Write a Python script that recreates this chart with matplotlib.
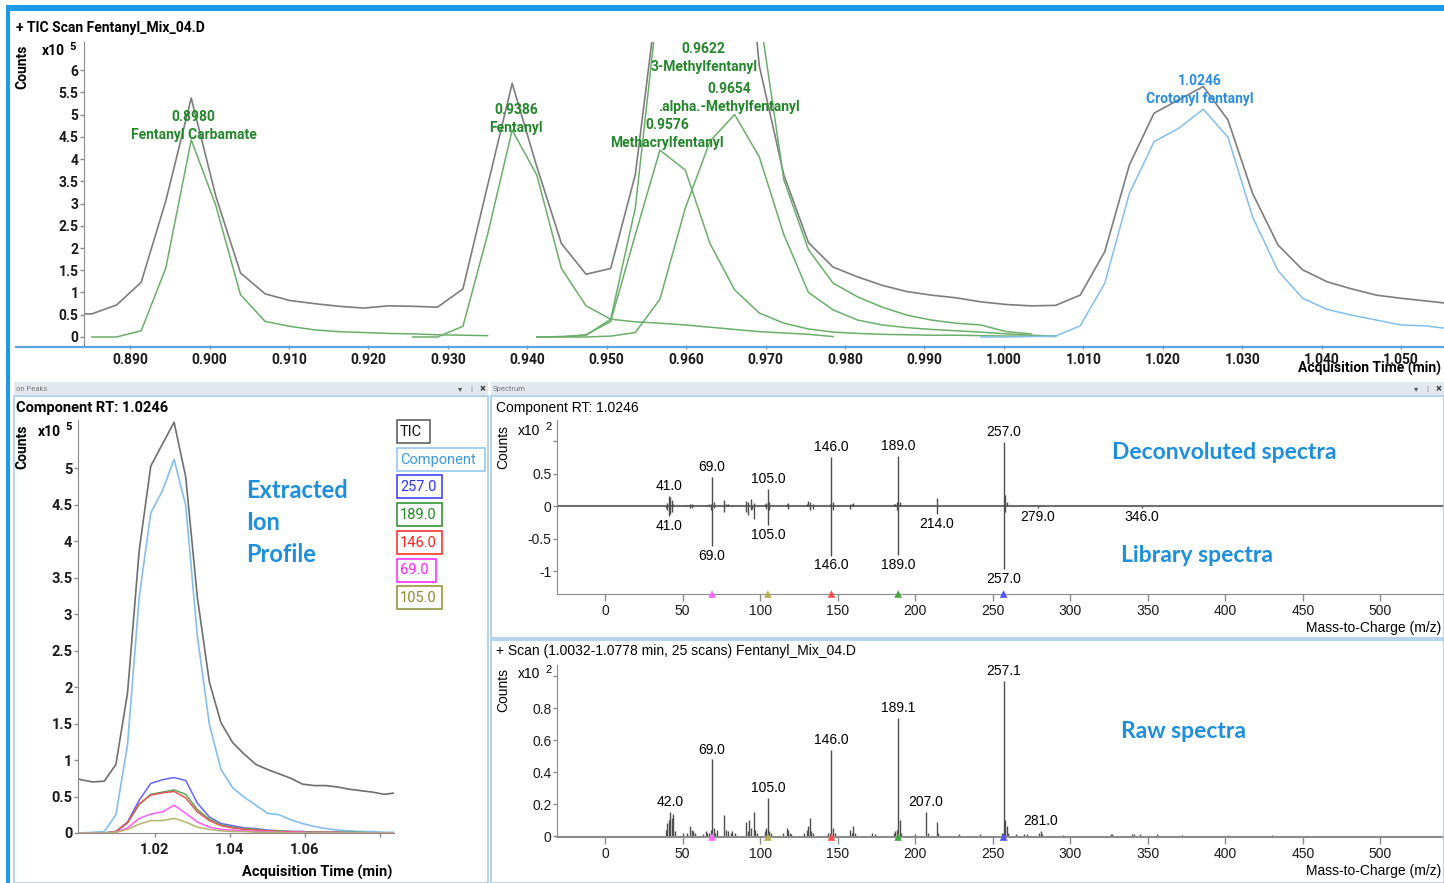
import matplotlib.pyplot as plt
from matplotlib.patches import Rectangle
from matplotlib.lines import Line2D
from matplotlib.ticker import FuncFormatter

plt.rcParams['font.family'] = ['Roboto', 'DejaVu Sans']

# ---------------- data ----------------
# scan times (min), one entry per scan
scan_time = [0.8821, 0.8852, 0.8883, 0.8914, 0.8945, 0.8977, 0.9008, 0.9039, 0.9070, 0.9101,
             0.9132, 0.9163, 0.9194, 0.9225, 0.9256, 0.9287, 0.9319, 0.9350, 0.9381, 0.9412,
             0.9443, 0.9474, 0.9505, 0.9536, 0.9567, 0.9599, 0.9630, 0.9661, 0.9692, 0.9723,
             0.9754, 0.9785, 0.9816, 0.9847, 0.9878, 0.9909, 0.9940, 0.9971, 1.0003, 1.0034,
             1.0065, 1.0096, 1.0127, 1.0158, 1.0189, 1.0220, 1.0251, 1.0282, 1.0313, 1.0345,
             1.0376, 1.0407, 1.0438, 1.0469, 1.0500, 1.0531, 1.0562, 1.0593, 1.0624, 1.0655,
             1.0687, 1.0718, 1.0749, 1.0780, 1.0811, 1.0842]

# TIC (x10^5 counts)
tic = [0.51, 0.52, 0.72, 1.23, 3.06, 5.37, 3.16, 1.44, 0.97, 0.82,
       0.75, 0.69, 0.65, 0.70, 0.69, 0.67, 1.08, 3.40, 5.70, 3.83,
       2.10, 1.41, 1.54, 3.65, 8.10, 12.0, 14.0, 12.0, 6.10, 3.64,
       2.12, 1.57, 1.35, 1.16, 1.02, 0.94, 0.88, 0.79, 0.73, 0.70,
       0.71, 0.94, 1.92, 3.87, 5.03, 5.33, 5.63, 4.88, 3.23, 2.07,
       1.51, 1.24, 1.08, 0.94, 0.87, 0.81, 0.75, 0.67, 0.65, 0.65,
       0.63, 0.60, 0.58, 0.56, 0.53, 0.55]

# deconvoluted component traces: (first scan index, values)
carbamate_start = 1
carbamate = [0.0, 0.0, 0.14, 1.55, 4.43, 2.95, 0.95, 0.35, 0.24, 0.16, 0.12, 0.10, 0.08,
             0.07, 0.05, 0.04, 0.03]
fentanyl_start = 14
fentanyl = [0.0, 0.0, 0.24, 2.30, 4.65, 3.64, 1.54, 0.70, 0.40, 0.34, 0.31, 0.27, 0.22,
            0.17, 0.12, 0.09, 0.06, 0.01]
methacryl_start = 19
methacryl = [0.0, 0.0, 0.05, 0.35, 2.30, 4.20, 3.75, 2.10, 1.06, 0.54, 0.31, 0.18, 0.11,
             0.08, 0.06, 0.05, 0.04, 0.04, 0.03, 0.02, 0.02, 0.01]
methyl3_start = 19
methyl3 = [0.0, 0.01, 0.04, 0.40, 2.90, 7.90, 11.0, 12.0, 10.0, 7.30, 3.53, 1.96, 1.21,
           0.90, 0.67, 0.49, 0.38, 0.31, 0.27, 0.12, 0.07]
alpha_start = 20
alpha = [0.0, 0.0, 0.02, 0.10, 0.85, 2.90, 4.40, 5.00, 4.05, 2.30, 1.00, 0.61, 0.38, 0.27,
         0.21, 0.17, 0.14, 0.11, 0.07, 0.04, 0.02]
crotonyl_start = 37
crotonyl = [0.0, 0.0, 0.01, 0.02, 0.25, 1.21, 3.23, 4.39, 4.69, 5.12, 4.49, 2.70, 1.49,
            0.87, 0.62, 0.49, 0.38, 0.27, 0.25, 0.18, 0.13, 0.09, 0.06, 0.04, 0.03, 0.02,
            0.02, 0.01, 0.01]

peak_rt = [0.8980, 0.9386, 0.9622, 0.9654, 0.9576, 1.0246]
peak_names = ['Fentanyl Carbamate', 'Fentanyl', '3-Methylfentanyl',
              '.alpha.-Methylfentanyl', 'Methacrylfentanyl', 'Crotonyl fentanyl']

# extracted ions of crotonyl fentanyl, scans 37..65
eic_start = 37
ion_names = ['257.0', '189.0', '146.0', '69.0', '105.0']
ion257 = [0, 0, 0, 0, 0.02, 0.15, 0.45, 0.68, 0.73, 0.76, 0.72, 0.41, 0.22, 0.13, 0.10,
          0.07, 0.06, 0.04, 0.03, 0.02, 0.02, 0.01, 0.01, 0.01, 0.01, 0, 0, 0, 0]
ion189 = [0, 0, 0, 0, 0.02, 0.14, 0.39, 0.53, 0.56, 0.59, 0.53, 0.32, 0.19, 0.11, 0.08,
          0.06, 0.05, 0.03, 0.03, 0.02, 0.02, 0.01, 0.01, 0.01, 0.01, 0.01, 0, 0, 0]
ion146 = [0, 0, 0, 0, 0.02, 0.14, 0.40, 0.52, 0.55, 0.57, 0.48, 0.29, 0.17, 0.10, 0.07,
          0.05, 0.04, 0.03, 0.02, 0.02, 0.01, 0.01, 0.01, 0.01, 0, 0, 0, 0, 0]
ion69 = [0, 0, 0, 0, 0.01, 0.07, 0.20, 0.26, 0.29, 0.38, 0.27, 0.15, 0.08, 0.05, 0.04,
         0.03, 0.02, 0.02, 0.01, 0.01, 0.01, 0, 0, 0, 0, 0, 0, 0, 0]
ion105 = [0, 0, 0, 0, 0.01, 0.05, 0.12, 0.17, 0.17, 0.20, 0.15, 0.08, 0.05, 0.03, 0.02,
          0.02, 0.01, 0.01, 0.01, 0, 0, 0, 0, 0, 0, 0, 0, 0, 0]

# deconvoluted spectrum (up) and library spectrum (down), x10^2 counts
decon_mz = [41, 69, 105, 146, 189, 257]
decon_int = [0.16, 0.45, 0.27, 0.76, 0.78, 0.99]
decon_minor_mz = [40, 42, 43, 44, 51, 53, 55, 56, 57, 65, 67, 68, 70, 77, 78, 79, 82, 91, 92,
                  94, 96, 103, 104, 106, 117, 118, 130, 131, 132, 134, 145, 147, 158, 159,
                  160, 172, 186, 187, 188, 190, 200, 214, 228, 258, 259]
decon_minor_int = [0.05, 0.14, 0.10, 0.04, 0.02, 0.02, 0.03, 0.03, 0.02, 0.02, 0.03, 0.04,
                   0.06, 0.10, 0.03, 0.04, 0.02, 0.08, 0.06, 0.12, 0.05, 0.03, 0.05, 0.06,
                   0.03, 0.05, 0.03, 0.08, 0.06, 0.03, 0.04, 0.06, 0.04, 0.03, 0.05, 0.01,
                   0.03, 0.04, 0.06, 0.07, 0.01, 0.13, 0.01, 0.17, 0.06]
lib_mz = [41, 69, 105, 146, 189, 257, 214, 279, 346]
lib_int = [-0.15, -0.61, -0.29, -0.76, -0.75, -0.97, -0.12, -0.02, -0.02]
lib_minor_mz = [39, 40, 42, 43, 55, 56, 68, 70, 77, 91, 92, 94, 95, 96, 104, 106, 118, 132,
                134, 147, 158, 188, 258]
lib_minor_int = [-0.03, -0.06, -0.12, -0.08, -0.02, -0.03, -0.05, -0.03, -0.08, -0.08,
                 -0.14, -0.05, -0.04, -0.19, -0.04, -0.05, -0.04, -0.06, -0.04, -0.05,
                 -0.04, -0.06, -0.08]

# raw scan spectrum, x10^2 counts
raw_mz = [42, 69, 105, 146, 189.1, 207, 257.1, 281]
raw_int = [0.15, 0.48, 0.24, 0.54, 0.74, 0.15, 0.97, 0.03]
raw_minor_mz = [39, 40, 41, 43, 44, 45, 50, 53, 55, 56, 57, 58, 63, 65, 66, 67, 68, 70, 71,
                72, 77, 78, 79, 81, 82, 84, 91, 92, 93, 94, 96, 97, 98, 103, 104, 106, 107,
                115, 117, 118, 119, 120, 128, 130, 131, 132, 133, 134, 144, 145, 147, 148,
                158, 159, 160, 161, 172, 174, 186, 187, 188, 190, 191, 200, 208, 214, 215,
                228, 242, 256, 258, 259, 260, 265, 270, 272, 280, 282, 295, 326, 327, 340,
                341, 345, 356, 372, 402, 430]
raw_minor_int = [0.04, 0.08, 0.10, 0.11, 0.14, 0.03, 0.02, 0.02, 0.06, 0.04, 0.03, 0.02,
                 0.01, 0.03, 0.02, 0.02, 0.04, 0.05, 0.02, 0.04, 0.13, 0.04, 0.03, 0.02,
                 0.03, 0.02, 0.09, 0.03, 0.10, 0.05, 0.15, 0.04, 0.02, 0.03, 0.05, 0.03,
                 0.02, 0.02, 0.05, 0.04, 0.02, 0.01, 0.02, 0.04, 0.06, 0.11, 0.03, 0.02,
                 0.02, 0.02, 0.05, 0.02, 0.04, 0.02, 0.06, 0.02, 0.02, 0.01, 0.02, 0.03,
                 0.04, 0.10, 0.02, 0.01, 0.02, 0.09, 0.02, 0.01, 0.01, 0.02, 0.10, 0.06,
                 0.02, 0.01, 0.01, 0.01, 0.02, 0.01, 0.005, 0.01, 0.01, 0.01, 0.01, 0.01,
                 0.01, 0.005, 0.005, 0.005]
raw_labels = ['42.0', '69.0', '105.0', '146.0', '189.1', '207.0', '257.1', '281.0']

marker_mz = [69, 105, 146, 189, 257]

# ---------------- layout helpers (pixel coords, origin top-left) ----------------
W, H = 1444, 883
fig = plt.figure(figsize=(W / 100, H / 100), dpi=100)


def rect(x0, y0, x1, y1):
    return [x0 / W, 1 - y1 / H, (x1 - x0) / W, (y1 - y0) / H]


def ftext(x, y, s, **kw):
    fig.text(x / W, 1 - y / H, s, **kw)


def fline(xs, ys, **kw):
    fig.add_artist(Line2D([x / W for x in xs], [1 - y / H for y in ys], **kw))


def fbox(x0, y0, x1, y1, **kw):
    fig.add_artist(Rectangle((x0 / W, 1 - y1 / H), (x1 - x0) / W, (y1 - y0) / H, **kw))


def g(v, _):
    return f'{v:g}'


def style(ax, size=10, weight='bold', family=None):
    for s in ['top', 'right']:
        ax.spines[s].set_visible(False)
    for s in ['left', 'bottom']:
        ax.spines[s].set_color('#8c8c8c')
    ax.tick_params(colors='#8c8c8c', labelcolor='#1a1a1a', labelsize=size, length=3, width=1)
    for lab in ax.get_xticklabels() + ax.get_yticklabels():
        lab.set_fontweight(weight)
        if family:
            lab.set_family(family)


TIC_C = '#7d7d7d'
GREEN = '#6aae6a'
COMP = '#84bfeb'
ION_C = ['#6464ff', '#55a855', '#e85555', '#ff5cff', '#b4b46e']
MARK_C = ['#ff66ff', '#b0b050', '#ff5050', '#40a840', '#5050ff']
LBL_G = '#24862a'
LBL_B = '#2a8fe0'
BIG_B = '#1e8fdc'
BIG_FONT = ['Lato', 'DejaVu Sans']

# outer frame
fbox(6, 5, 1444, 11, facecolor='#1e9be6', edgecolor='none')
fbox(6, 5, 10, 883, facecolor='#1e9be6', edgecolor='none')

# ---------------- top: TIC chromatogram ----------------
ax1 = fig.add_axes(rect(84, 42, 1444, 345))
ax1.plot(scan_time, tic, color=TIC_C, lw=1.2)
for start, vals in [(carbamate_start, carbamate), (fentanyl_start, fentanyl),
                    (methacryl_start, methacryl), (methyl3_start, methyl3),
                    (alpha_start, alpha)]:
    ax1.plot(scan_time[start:start + len(vals)], vals, color=GREEN, lw=1.1)
ax1.plot(scan_time[crotonyl_start:crotonyl_start + len(crotonyl)], crotonyl, color=COMP, lw=1.1)
ax1.set_xlim(0.8842, 1.0554)
ax1.set_ylim(-0.18, 6.63)
ax1.set_xticks([0.89 + 0.01 * i for i in range(17)])
ax1.xaxis.set_major_formatter(FuncFormatter(lambda v, _: f'{v:.3f}'))
ax1.set_yticks([0.5 * i for i in range(13)])
ax1.yaxis.set_major_formatter(FuncFormatter(g))
style(ax1)
ax1.spines['bottom'].set_visible(False)
ax1.tick_params(axis='x', pad=3)
ax1.tick_params(axis='y', pad=1)

label_y = [(4.94, 4.54), (5.10, 4.70), (6.47, 6.07), (5.57, 5.17), (4.76, 4.36), (5.75, 5.35)]
for i, (rt, name) in enumerate(zip(peak_rt, peak_names)):
    c = LBL_B if i == len(peak_rt) - 1 else LBL_G
    ax1.text(rt, label_y[i][0], f'{rt:.4f}', color=c, ha='center', va='center',
             fontsize=10, fontweight='bold')
    ax1.text(rt, label_y[i][1], name, color=c, ha='center', va='center',
             fontsize=10, fontweight='bold')

fline([16, 1444], [347, 347], color='#5aa5e0', lw=1.6)
ftext(16, 28, '+ TIC Scan Fentanyl_Mix_04.D', fontsize=10, fontweight='bold', va='center')
ftext(22, 67, 'Counts', fontsize=10, fontweight='bold', rotation=90, ha='center', va='center')
ftext(42, 51, 'x10', fontsize=10, fontweight='bold', va='center')
ftext(69, 47, '5', fontsize=8, fontweight='bold', va='center')
ftext(1441, 368, 'Acquisition Time (min)', fontsize=10, fontweight='bold', ha='right',
      va='center')

# ---------------- panel frames ----------------
for x0, x1, name in [(14, 488, 'on Peaks'), (491, 1444, 'Spectrum')]:
    fbox(x0, 382, x1, 395, facecolor='#e3e8ee', edgecolor='none')
    ftext(x0 + 2, 389, name, fontsize=5.5, color='#7a7a7a', va='center')
    ftext(x1 - 30, 389, '▾', fontsize=6, color='#555555', va='center',
          family=['DejaVu Sans'])
    ftext(x1 - 18, 389, '¦', fontsize=6, color='#888888', va='center')
    ftext(x1 - 8, 389, '×', fontsize=8, color='#333333', va='center', fontweight='bold')
fbox(14, 396, 488, 883, facecolor='none', edgecolor='#a8cdea', lw=1.2)
fbox(491, 396, 1444, 638, facecolor='none', edgecolor='#a8cdea', lw=1.2)
fbox(491, 640, 1444, 883, facecolor='none', edgecolor='#a8cdea', lw=1.2)

# ---------------- bottom-left: extracted ion profile ----------------
ax2 = fig.add_axes(rect(78, 420, 394, 833))
t_eic = scan_time[eic_start:]
ax2.plot(t_eic, tic[eic_start:], color='#6e6e6e', lw=1.2)
ax2.plot(t_eic, crotonyl, color=COMP, lw=1.2)
for vals, c in zip([ion257, ion189, ion146, ion69, ion105], ION_C):
    ax2.plot(t_eic, vals, color=c, lw=1.1)
ax2.set_xlim(0.9995, 1.0837)
ax2.set_ylim(0, 5.66)
ax2.set_xticks([1.02, 1.04, 1.06, 1.08])
ax2.set_xticklabels(['1.02', '1.04', '1.06', ''])
ax2.set_yticks([0.5 * i for i in range(11)])
ax2.yaxis.set_major_formatter(FuncFormatter(g))
style(ax2, size=10.5)
ax2.tick_params(axis='x', pad=4)
ax2.tick_params(axis='y', pad=1)

ftext(16, 408, 'Component RT: 1.0246', fontsize=10.5, fontweight='bold', va='center')
ftext(22, 447, 'Counts', fontsize=10, fontweight='bold', rotation=90, ha='center', va='center')
ftext(38, 432, 'x10', fontsize=10, fontweight='bold', va='center')
ftext(65, 427, '5', fontsize=8, fontweight='bold', va='center')
ftext(392, 872, 'Acquisition Time (min)', fontsize=10.5, fontweight='bold', ha='right',
      va='center')

for i, word in enumerate(['Extracted', 'Ion', 'Profile']):
    ftext(246, 490 + 32 * i, word, fontsize=17, fontweight='bold', color=BIG_B, va='center',
          family=BIG_FONT)

leg_items = [('TIC', '#111111', '#555555', 430), ('Component', '#3a9ae0', '#8cc4ee', 485)]
leg_items += [(n, c, c, 436 if n == '69.0' else 442) for n, c in
              zip(ion_names, ['#3333ff', '#228b22', '#ff2020', '#ff20ff', '#8c8c30'])]
for i, (txt, tc, bc, xr) in enumerate(leg_items):
    y0 = 420 + 27.7 * i
    fbox(397, y0, xr, y0 + 23, facecolor='white', edgecolor=bc, lw=1.1)
    ftext(400, y0 + 12, txt, fontsize=10.5, color=tc, va='center')

# ---------------- top-right: deconvoluted vs library spectrum ----------------
SPEC_FONT = ['Liberation Sans', 'DejaVu Sans']
STICK = '#4d4d4d'

ax3 = fig.add_axes(rect(557, 420, 1444, 594))
ax3.axhline(0, color='#6f6f6f', lw=1.5)
ax3.vlines(decon_minor_mz, 0, decon_minor_int, color=STICK, lw=1)
ax3.vlines(lib_minor_mz, 0, lib_minor_int, color=STICK, lw=1)
ax3.vlines(decon_mz, 0, decon_int, color=STICK, lw=1)
ax3.vlines(lib_mz, 0, lib_int, color=STICK, lw=1)
for mz, v in zip(decon_mz, decon_int):
    ax3.annotate(f'{mz:.1f}', (mz, v), xytext=(0, 2), textcoords='offset points',
                 ha='center', va='bottom', fontsize=10, family=SPEC_FONT)
for mz, v in zip(lib_mz, lib_int):
    ax3.annotate(f'{mz:.1f}', (mz, v), xytext=(0, -2), textcoords='offset points',
                 ha='center', va='top', fontsize=10, family=SPEC_FONT)
ax3.scatter(marker_mz, [-1.35] * len(marker_mz), marker='^', c=MARK_C, s=30,
            clip_on=False, zorder=5, linewidths=0)
ax3.set_xlim(-31, 541)
ax3.set_ylim(-1.35, 1.33)
ax3.set_xticks(range(0, 501, 50))
ax3.set_yticks([-1, -0.5, 0, 0.5, 1])
ax3.set_yticklabels(['-1', '-0.5', '0', '0.5', ''])
style(ax3, size=10, weight='normal', family=SPEC_FONT)
ax3.tick_params(axis='x', length=5, pad=2)
ax3.tick_params(axis='y', pad=1)

ftext(496, 408, 'Component RT: 1.0246', fontsize=10, va='center', family=SPEC_FONT)
ftext(503, 447, 'Counts', fontsize=10, rotation=90, ha='center', va='center',
      family=SPEC_FONT)
ftext(518, 431, 'x10', fontsize=10, va='center', family=SPEC_FONT)
ftext(545, 427, '2', fontsize=8, va='center', family=SPEC_FONT)
ftext(1441, 628, 'Mass-to-Charge (m/z)', fontsize=10, ha='right', va='center',
      family=SPEC_FONT)
ftext(1112, 452, 'Deconvoluted spectra', fontsize=16.5, fontweight='bold', color=BIG_B,
      va='center', family=BIG_FONT)
ftext(1121, 556, 'Library spectra', fontsize=16.5, fontweight='bold', color=BIG_B,
      va='center', family=BIG_FONT)

# ---------------- bottom-right: raw scan spectrum ----------------
ax4 = fig.add_axes(rect(557, 665, 1444, 837))
ax4.vlines(raw_minor_mz, 0, raw_minor_int, color=STICK, lw=1)
ax4.vlines(raw_mz, 0, raw_int, color=STICK, lw=1)
for mz, v, lab in zip(raw_mz, raw_int, raw_labels):
    ax4.annotate(lab, (mz, v), xytext=(0, 2), textcoords='offset points',
                 ha='center', va='bottom', fontsize=10, family=SPEC_FONT)
ax4.scatter(marker_mz, [-0.006] * len(marker_mz), marker='^', c=MARK_C, s=30,
            clip_on=False, zorder=5, linewidths=0)
ax4.set_xlim(-31, 541)
ax4.set_ylim(-0.006, 1.07)
ax4.set_xticks(range(0, 501, 50))
ax4.set_yticks([0, 0.2, 0.4, 0.6, 0.8, 1.0])
ax4.set_yticklabels(['0', '0.2', '0.4', '0.6', '0.8', ''])
style(ax4, size=10, weight='normal', family=SPEC_FONT)
ax4.spines['bottom'].set_linewidth(1.5)
ax4.tick_params(axis='x', length=5, pad=2)
ax4.tick_params(axis='y', pad=1)

ftext(496, 651, '+ Scan (1.0032-1.0778 min, 25 scans) Fentanyl_Mix_04.D', fontsize=10,
      va='center', family=SPEC_FONT)
ftext(503, 690, 'Counts', fontsize=10, rotation=90, ha='center', va='center',
      family=SPEC_FONT)
ftext(518, 674, 'x10', fontsize=10, va='center', family=SPEC_FONT)
ftext(545, 670, '2', fontsize=8, va='center', family=SPEC_FONT)
ftext(1441, 871, 'Mass-to-Charge (m/z)', fontsize=10, ha='right', va='center',
      family=SPEC_FONT)
ftext(1121, 731, 'Raw spectra', fontsize=16.5, fontweight='bold', color=BIG_B, va='center',
      family=BIG_FONT)

fig.savefig('out.png', dpi=100)
